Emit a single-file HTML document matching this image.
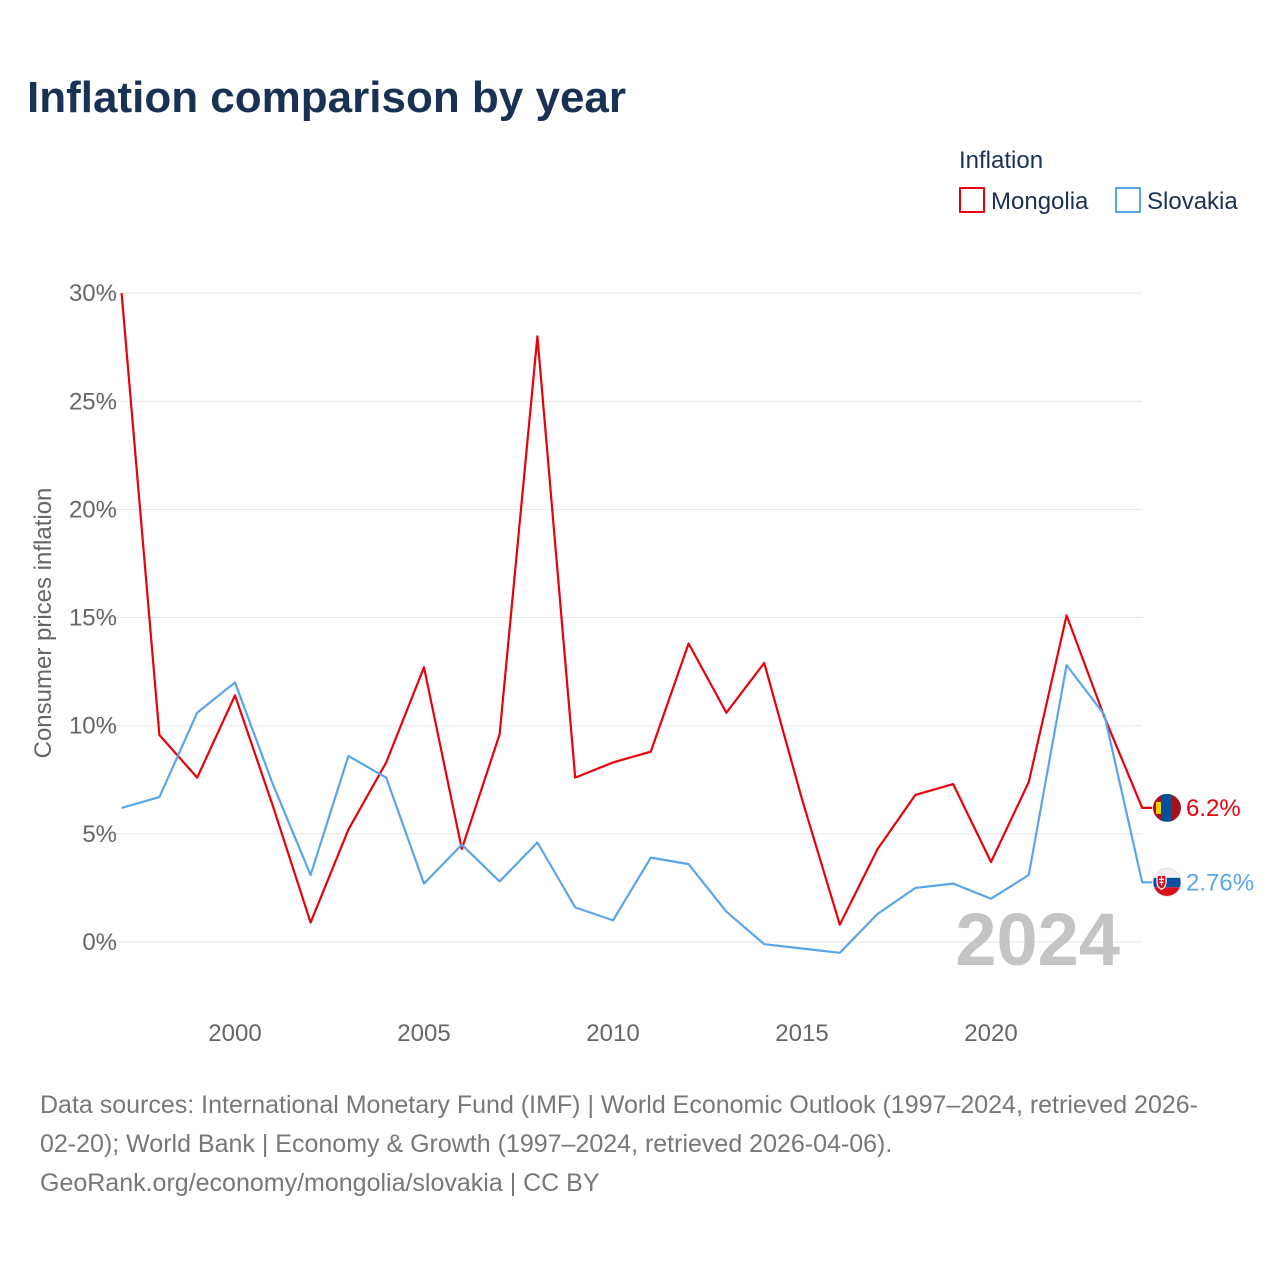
<!DOCTYPE html>
<html><head><meta charset="utf-8"><style>
body{margin:0;background:#fff;font-family:"Liberation Sans",sans-serif;}
svg text{font-family:"Liberation Sans",sans-serif;}
</style></head><body>
<svg width="1280" height="1280" xmlns="http://www.w3.org/2000/svg" id="chart">
<text x="27" y="112" font-size="44" font-weight="bold" fill="#1b3154">Inflation comparison by year</text>
<g>
<text x="959" y="168" font-size="24" fill="#1b3154">Inflation</text>
<g><rect x="960" y="188" width="24" height="24" fill="none" stroke="#e8000b" stroke-width="2"/><text x="991" y="209" font-size="24" fill="#1b3154">Mongolia</text></g>
<g><rect x="1116" y="188" width="24" height="24" fill="none" stroke="#5aa5ea" stroke-width="2"/><text x="1147" y="209" font-size="24" fill="#1b3154">Slovakia</text></g>
</g>
<g id="grid"></g>
<g id="yticks"></g>
<g id="xticks"></g>
<text transform="translate(51,623) rotate(-90)" text-anchor="middle" font-size="24" fill="#666">Consumer prices inflation</text>
<text x="1120" y="965" text-anchor="end" font-size="74" font-weight="bold" fill="#c4c4c4">2024</text>
<g id="series"></g>
<g font-size="25" fill="#777">
<text x="40" y="1113">Data sources: International Monetary Fund (IMF) | World Economic Outlook (1997–2024, retrieved 2026-</text>
<text x="40" y="1152">02-20); World Bank | Economy &amp; Growth (1997–2024, retrieved 2026-04-06).</text>
<text x="40" y="1191">GeoRank.org/economy/mongolia/slovakia | CC BY</text>
</g>
</svg>
<script>
const years=[1997,1998,1999,2000,2001,2002,2003,2004,2005,2006,2007,2008,2009,2010,2011,2012,2013,2014,2015,2016,2017,2018,2019,2020,2021,2022,2023,2024];
const mongolia=[30,9.57,7.6,11.4,6.3,0.9,5.2,8.3,12.7,4.3,9.6,28.0,7.6,8.3,8.8,13.8,10.6,12.9,6.6,0.8,4.3,6.8,7.3,3.7,7.4,15.1,10.4,6.2];
const slovakia=[6.2,6.7,10.6,12.0,7.3,3.1,8.6,7.6,2.7,4.5,2.8,4.6,1.6,1.0,3.9,3.6,1.4,-0.1,-0.3,-0.5,1.3,2.5,2.7,2.0,3.1,12.8,10.5,2.76];
const yTicks=[0,5,10,15,20,25,30];
const xTicks=[2000,2005,2010,2015,2020];
const NS="http://www.w3.org/2000/svg";
const X=y=>121.6+(y-1997)*37.8;
const Y=v=>942-v*21.63;
function mk(tag,attrs,parent){const e=document.createElementNS(NS,tag);for(const k in attrs)e.setAttribute(k,attrs[k]);parent.appendChild(e);return e;}
const grid=document.getElementById('grid'),yt=document.getElementById('yticks'),xt=document.getElementById('xticks'),ser=document.getElementById('series');
yTicks.forEach(t=>{
 const l=mk('line',{x1:97,x2:1142,y1:Y(t),y2:Y(t),stroke:'#e6e6e6','stroke-width':1},grid);
 
 
 const tx=mk('text',{x:117,y:Y(t)+8,'text-anchor':'end','font-size':24,fill:'#666'},yt);
 tx.textContent=t+'%';
 
 
});
xTicks.forEach(t=>{
 const tx=mk('text',{x:X(t),y:1041,'text-anchor':'middle','font-size':24,fill:'#666'},xt);
 tx.textContent=t;
 
 
});
function line(vals,color,name){
 const pts=vals.map((v,i)=>X(years[i])+','+Y(v));
 const last=vals[vals.length-1];
 pts.push((X(years[years.length-1])+10)+','+Y(last));
 const p=mk('polyline',{points:pts.join(' '),fill:'none',stroke:color,'stroke-width':2.2,'stroke-linejoin':'round'},ser);
 
 
 const lab=mk('text',{x:1186,y:Y(last)+8,'font-size':24,fill:color},ser);
 lab.textContent=last+'%';
 
 
 return Y(last);
}
const ym=line(mongolia,'#e8000b','mongolia');
const ys=line(slovakia,'#5aa5ea','slovakia');
const defs=mk('defs',{},ser);
const cm=mk('clipPath',{id:'cm'},defs);mk('circle',{cx:1167,cy:ym,r:14},cm);
const cs=mk('clipPath',{id:'cs'},defs);mk('circle',{cx:1167,cy:ys,r:14},cs);
const fm=mk('g',{'clip-path':'url(#cm)'},ser);


mk('rect',{x:1153,y:ym-14,width:10,height:28,fill:'#a8101c'},fm);
mk('rect',{x:1162,y:ym-14,width:10,height:28,fill:'#015197'},fm);
mk('rect',{x:1171,y:ym-14,width:10,height:28,fill:'#a8101c'},fm);
mk('rect',{x:1156,y:ym-6,width:5,height:12,fill:'#f9cf02'},fm);
const fs=mk('g',{'clip-path':'url(#cs)'},ser);


mk('rect',{x:1153,y:ys-14,width:28,height:10,fill:'#f2f2f2'},fs);
mk('rect',{x:1153,y:ys-4.5,width:28,height:9.5,fill:'#0b4ea2'},fs);
mk('rect',{x:1153,y:ys+5,width:28,height:9,fill:'#d6101c'},fs);
mk('path',{d:`M1157 ${ys-7} h9 v7 q0 5 -4.5 7 q-4.5 -2 -4.5 -7 z`,fill:'#d6101c',stroke:'#fff','stroke-width':1.2},fs);
mk('path',{d:`M1161.5 ${ys-6} v9 M1159 ${ys-3} h5 M1159.5 ${ys} h4`,stroke:'#fff','stroke-width':1.2},fs);
mk('circle',{cx:1167,cy:ys,r:14,fill:'none',stroke:'#ddd','stroke-width':0.8},ser);
</script>
</body></html>
